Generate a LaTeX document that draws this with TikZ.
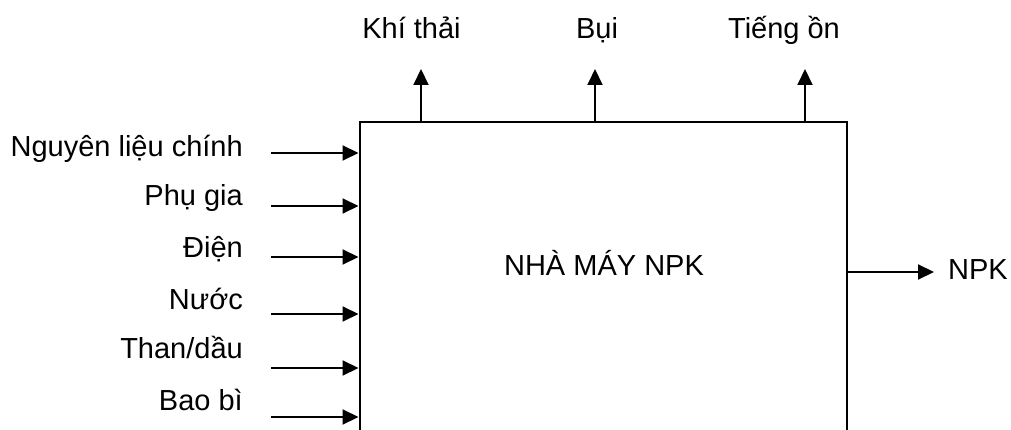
\documentclass[tikz,border=0pt]{standalone}
\usepackage{fontspec}
\setmainfont{Liberation Sans}
\usetikzlibrary{arrows.meta}
\begin{document}
\begin{tikzpicture}[x=1pt,y=-1pt,
  lbl/.style={inner sep=0pt,font=\fontsize{29}{34}\selectfont},
  flow/.style={line width=2pt,-{Triangle[length=16pt,width=15pt]}},
  boxline/.style={line width=2pt}]
\useasboundingbox (0,0) rectangle (1011,430);
\fill[white] (0,0) rectangle (1011,430);
% plant box (open at the bottom)
\coordinate (bl) at (359.5,432);
\coordinate (tl) at (359.5,122.5);
\coordinate (tr) at (847,122.5);
\coordinate (br) at (847,432);
\draw[boxline] (bl) -- (tl) -- (tr) -- (br);
\node[lbl,anchor=base] (plant) at (604,275) {NHÀ MÁY NPK};
% inputs
\node[lbl,anchor=base east] (in1) at (243,157) {Nguyên liệu chính};
\node[lbl,anchor=base east] (in2) at (243,206) {Phụ gia};
\node[lbl,anchor=base east] (in3) at (243,258) {Điện};
\node[lbl,anchor=base east] (in4) at (243,309) {Nước};
\node[lbl,anchor=base east] (in5) at (243,358) {Than/dầu};
\node[lbl,anchor=base east] (in6) at (243,410) {Bao bì};
\foreach \i/\y in {1/153,2/206,3/257,4/314,5/368,6/417}{
  \coordinate (s\i) at (271,\y);
  \coordinate (e\i) at (358.5,\y);
  \draw[flow] (s\i) -- (e\i);
}
% emissions
\node[lbl,anchor=base] (out1) at (411.5,39) {Khí thải};
\node[lbl,anchor=base] (out2) at (597,39) {Bụi};
\node[lbl,anchor=base] (out3) at (784,39) {Tiếng ồn};
\foreach \i/\x in {1/421,2/595,3/805}{
  \coordinate (u\i) at (\x,121.5);
  \coordinate (v\i) at (\x,69);
  \draw[flow] (u\i) -- (v\i);
}
% product
\node[lbl,anchor=base west] (prod) at (948,279) {NPK};
\coordinate (p0) at (848,272);
\coordinate (p1) at (934,272);
\draw[flow] (p0) -- (p1);
\end{tikzpicture}
\end{document}
